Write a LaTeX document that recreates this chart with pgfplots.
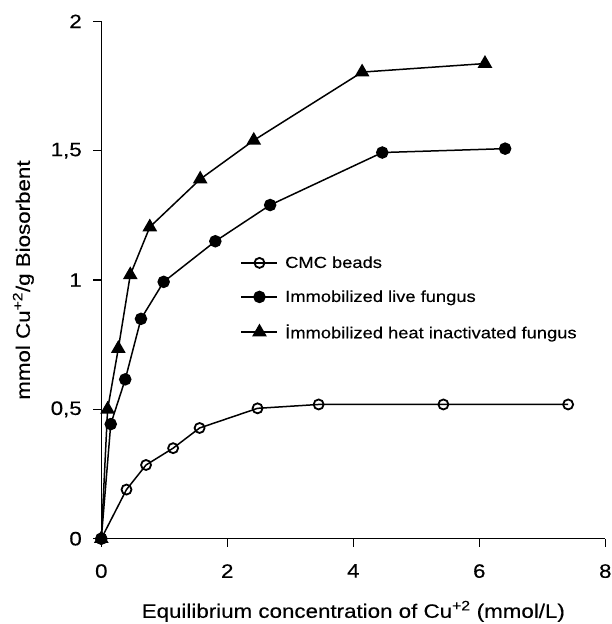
\documentclass[border=0pt]{standalone}
\usepackage{pgfplots}
\pgfplotsset{compat=1.18}
\usepackage{fontspec}
\setmainfont[FakeStretch=1.15, FakeBold=0.3]{Liberation Sans}
\begin{document}
\begin{tikzpicture}
\begin{axis}[
  scale only axis,
  width=504bp, height=517.3bp,
  xmin=0, xmax=8, ymin=0, ymax=2,
  xtick={0,2,4,6,8}, ytick={0,0.5,1,1.5,2},
  axis x line*=bottom, axis y line*=left,
  axis line style={line width=1.3bp},
  tick align=outside,
  major tick length=8bp,
  tick style={line width=1.2bp, black},
  /pgf/number format/assume math mode=true,
  /pgf/number format/use comma,
  ticklabel style={font=\fontsize{19.5}{22}\selectfont},
  xticklabel style={yshift=-14bp},
  yticklabel style={xshift=-8bp},
  xlabel={Equilibrium concentration of Cu\textsuperscript{+2} (mmol/L)},
  ylabel={mmol Cu\textsuperscript{+2}/g Biosorbent},
  label style={font=\fontsize{19.5}{22}\selectfont},
  xlabel style={yshift=-16bp},
  ylabel style={yshift=10bp},
  legend style={at={(axis cs:2.21,1.10)}, anchor=north west, draw=none, fill=none,
    font=\fontsize{16}{19}\selectfont, row sep=17bp, inner sep=0pt},
  legend cell align=left,
  legend image code/.code={\draw[#1, mark repeat=2, mark phase=2] plot coordinates {(0bp,0bp) (18bp,0bp) (36bp,0bp)}; \path (41bp,0bp);},
  every axis plot/.append style={line width=1.5bp, black},
]
\addplot[mark=o, mark size=5bp, mark options={fill=white, line width=1.8bp}] coordinates {
(0,0) (0.40,0.19) (0.71,0.285) (1.14,0.35) (1.56,0.428) (2.48,0.504) (3.45,0.519) (5.43,0.519) (7.41,0.519)};
\addlegendentry{CMC beads}
\addplot[mark=*, mark size=5.5bp, mark options={fill=black}] coordinates {
(0,0) (0.15,0.443) (0.38,0.616) (0.63,0.85) (0.99,0.993) (1.81,1.15) (2.68,1.29) (4.46,1.493) (6.41,1.508)};
\addlegendentry{Immobilized live fungus}
\addplot[mark=triangle*, mark size=7bp, mark options={fill=black}] coordinates {
(0,0) (0.10,0.50) (0.27,0.735) (0.46,1.02) (0.77,1.205) (1.57,1.39) (2.42,1.54) (4.14,1.804) (6.09,1.837)};
\addlegendentry{İmmobilized heat inactivated fungus}
\end{axis}
\pgfresetboundingbox
\path (current axis.south west) ++(-101.3bp,-85.3bp) rectangle ++(612bp,624bp);
\end{tikzpicture}
\end{document}
